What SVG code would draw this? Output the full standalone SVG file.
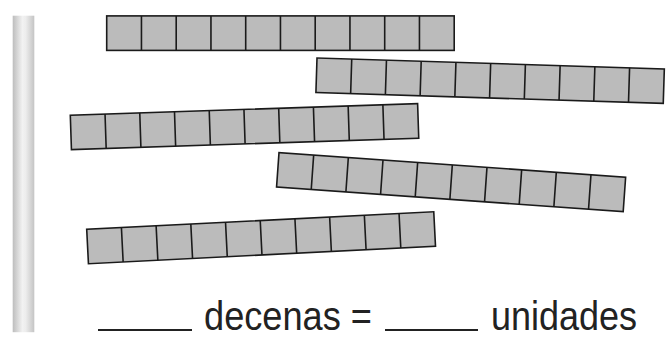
<svg xmlns="http://www.w3.org/2000/svg" xmlns:xlink="http://www.w3.org/1999/xlink" width="667" height="349" viewBox="0 0 667 349">
  <style>
    .cell { fill: #bbbbbb; stroke: #1a1a1a; stroke-width: 1.6; }
    .div { stroke: #1a1a1a; stroke-width: 1.6; }
    .lbl { font-family: "Liberation Sans", Arial, sans-serif; font-size: 40px; fill: #222222; }
    .blank { stroke: #222222; stroke-width: 2; }
  </style>
  <defs>
    <linearGradient id="poleGrad" x1="0" y1="0" x2="1" y2="0">
      <stop offset="0" stop-color="#bdbdbd"/>
      <stop offset="0.45" stop-color="#f2f2f2"/>
      <stop offset="0.6" stop-color="#ededed"/>
      <stop offset="1" stop-color="#c4c4c4"/>
    </linearGradient>
    <g id="ten">
      <rect class="cell" x="0" y="0" width="347.5" height="34.5"/>
      <path class="div" d="M34.75 0V34.5M69.5 0V34.5M104.25 0V34.5M139 0V34.5M173.75 0V34.5M208.5 0V34.5M243.25 0V34.5M278 0V34.5M312.75 0V34.5"/>
    </g>
  </defs>
  <rect width="667" height="349" fill="#ffffff"/>
  <g id="pole">
    <rect x="12.7" y="15.7" width="21.6" height="316.5" fill="url(#poleGrad)"/>
  </g>
  <g id="bar1" transform="translate(106.7 15.9)">
    <use xlink:href="#ten"/>
  </g>
  <g id="bar2" transform="translate(317 58) rotate(1.8)">
    <use xlink:href="#ten"/>
  </g>
  <g id="bar3" transform="translate(70.3 115.2) rotate(-1.9)">
    <use xlink:href="#ten"/>
  </g>
  <g id="bar4" transform="translate(279 152.7) rotate(4.05)">
    <use xlink:href="#ten"/>
  </g>
  <g id="bar5" transform="translate(86.7 229.3) rotate(-2.9)">
    <use xlink:href="#ten"/>
  </g>
  <g id="label">
    <line class="blank" x1="98" y1="330" x2="192" y2="330"/>
    <text class="lbl" x="204" y="330" textLength="168" lengthAdjust="spacingAndGlyphs">decenas =</text>
    <line class="blank" x1="385" y1="330" x2="478" y2="330"/>
    <text class="lbl" x="491" y="330" textLength="146" lengthAdjust="spacingAndGlyphs">unidades</text>
  </g>
</svg>
